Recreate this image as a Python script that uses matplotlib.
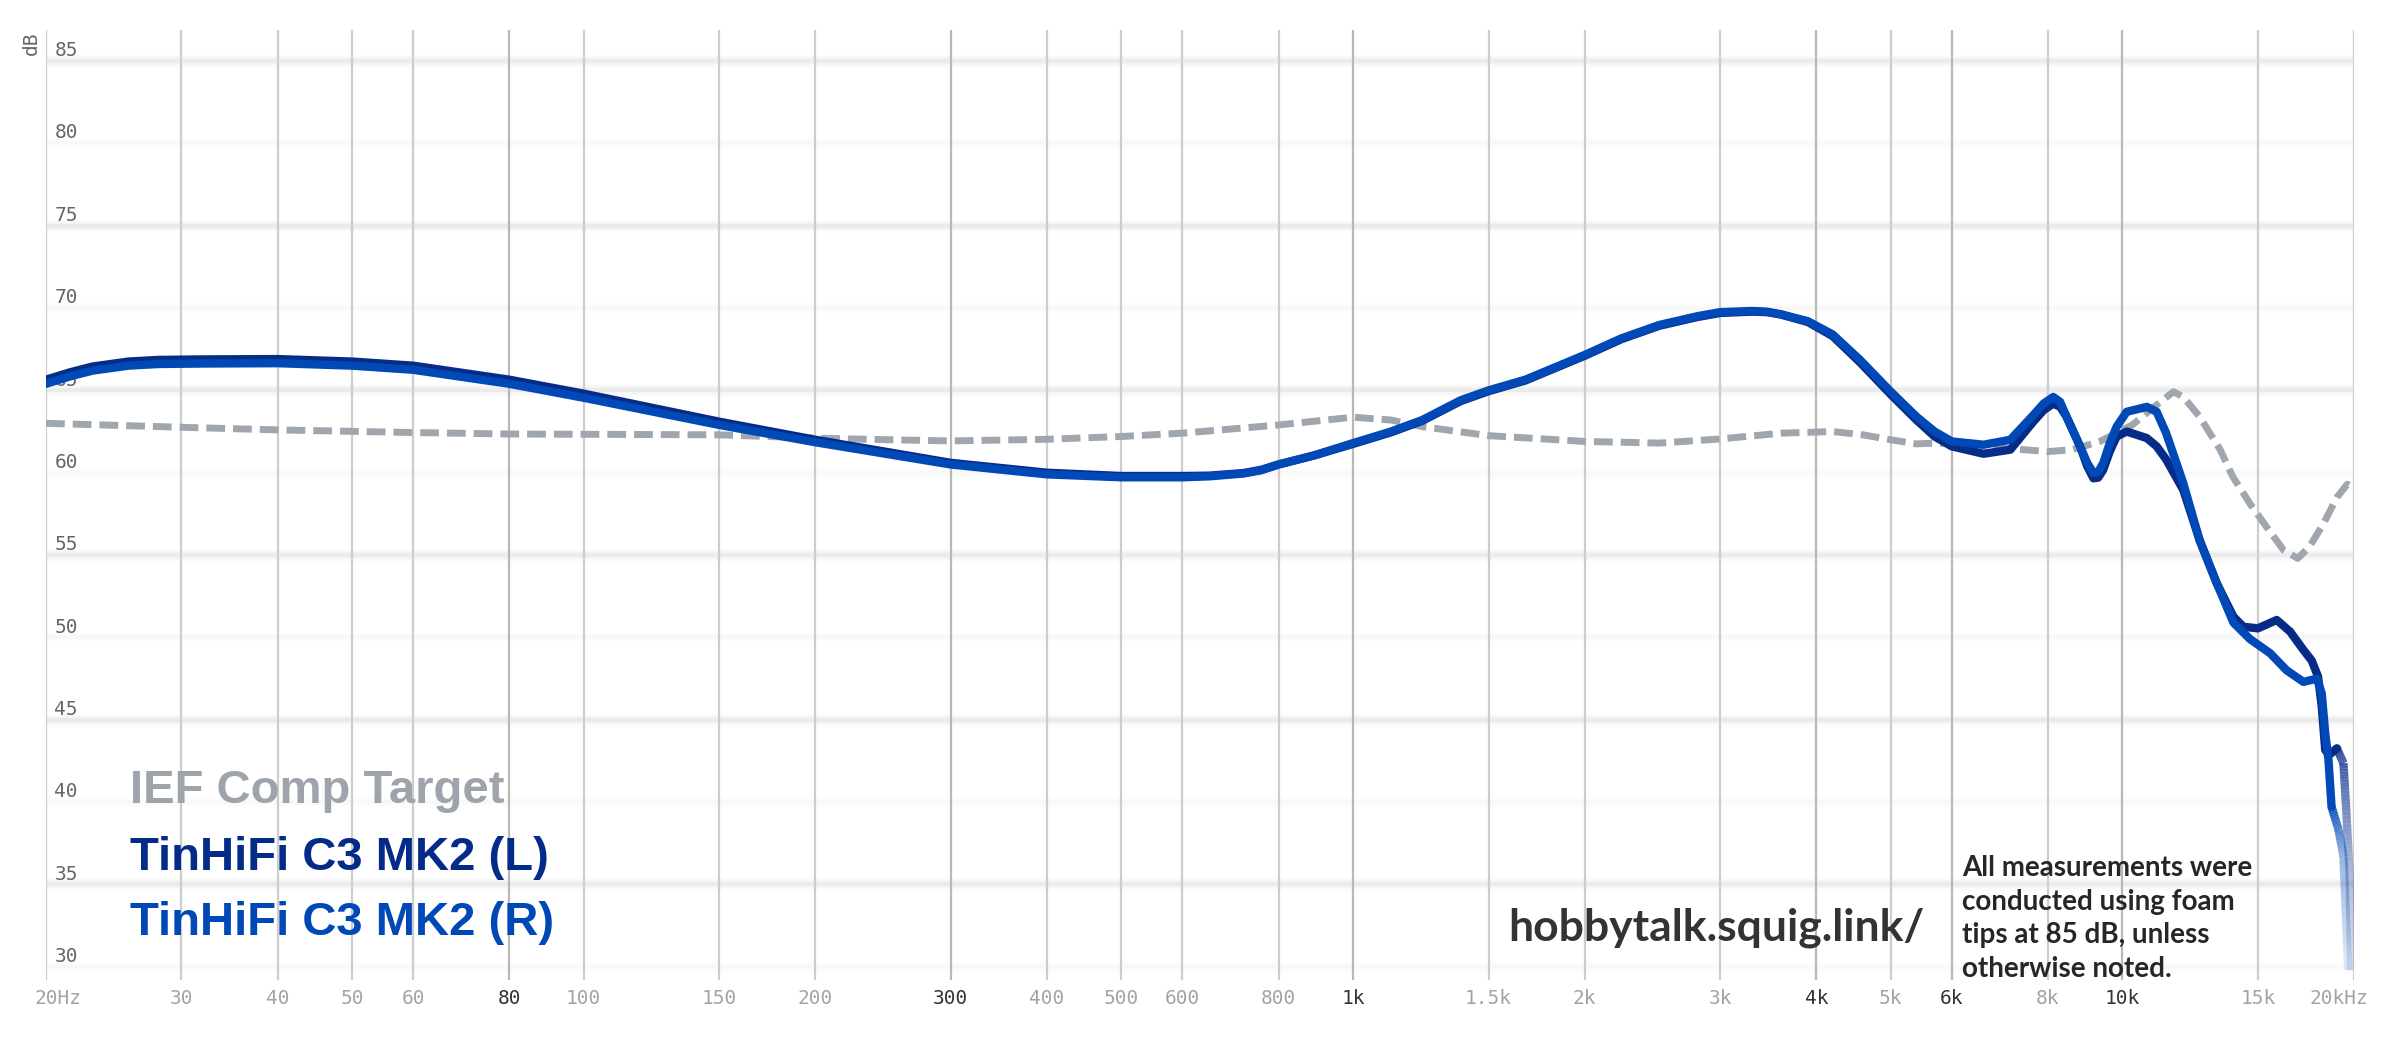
""" frequency response graph """
import numpy as np
import matplotlib.pyplot as plt
from matplotlib.collections import LineCollection
from matplotlib.colors import to_rgb

# x ticks (Hz) and their labels
tick_freqs = [20, 30, 40, 50, 60, 80, 100, 150, 200, 300, 400, 500, 600, 800,
              1000, 1500, 2000, 3000, 4000, 5000, 6000, 8000, 10000, 15000, 20000]
tick_labels = ['20Hz', '30', '40', '50', '60', '80', '100', '150', '200', '300', '400',
               '500', '600', '800', '1k', '1.5k', '2k', '3k', '4k', '5k', '6k', '8k',
               '10k', '15k', '20kHz']
dark_labels = ['80', '300', '1k', '4k', '6k', '10k']
db_ticks = [30, 35, 40, 45, 50, 55, 60, 65, 70, 75, 80, 85]

# IEF Comp Target
target_freq = [20, 30, 40, 60, 80, 105, 150, 200, 250, 300, 400, 500, 600, 800, 1000,
               1120, 1230, 1500, 2000, 2500, 3000, 3600, 4200, 4600, 5000, 5400, 5700,
               6500, 7000, 8000, 8600, 9350, 10300, 11000, 11650, 12000, 12600, 13400,
               13900, 14660, 15400, 16200, 16900, 17500, 18250, 19000, 19600, 20000]
target_db = [63.0, 62.76, 62.6, 62.44, 62.35, 62.33, 62.3, 62.1, 62.0, 61.93, 62.03, 62.2,
             62.4, 62.9, 63.37, 63.2, 62.8, 62.25, 61.9, 61.8, 62.05, 62.4, 62.5, 62.3,
             62.0, 61.75, 61.8, 61.7, 61.5, 61.28, 61.4, 61.9, 62.9, 64.0, 64.92, 64.6,
             63.4, 61.4, 59.8, 58.1, 56.7, 55.3, 54.8, 55.5, 56.9, 58.5, 59.3, 59.0]

# TinHiFi C3 MK2 (L)
left_freq = [20, 21.5, 23, 25.6, 28, 32, 40, 50, 60, 80, 100, 150, 200, 300, 400, 500,
             600, 650, 720, 760, 800, 890, 1000, 1120, 1230, 1380, 1500, 1675, 2000,
             2230, 2500, 2800, 3000, 3300, 3450, 3600, 3900, 4200, 4560, 5000, 5400,
             5700, 6000, 6600, 7150, 7660, 7900, 8130, 8300, 8460, 8810, 9000, 9170,
             9300, 9440, 9630, 9830, 10130, 10760, 11080, 11400, 12000, 12600, 13260,
             13940, 14360, 15000, 15870, 16520, 17190, 17620, 17960, 18160, 18350,
             18560, 19000, 19380, 19530, 19740, 19830]
left_db = [65.65, 66.1, 66.45, 66.75, 66.85, 66.88, 66.9, 66.75, 66.5, 65.65, 64.8, 63.1,
           62.0, 60.6, 60.0, 59.8, 59.8, 59.82, 59.98, 60.18, 60.5, 61.05, 61.75, 62.45,
           63.15, 64.35, 64.95, 65.6, 67.1, 68.1, 68.92, 69.45, 69.7, 69.78, 69.75, 69.6,
           69.15, 68.3, 66.7, 64.75, 63.2, 62.2, 61.6, 61.15, 61.4, 63.1, 63.8, 64.2,
           64.0, 63.4, 61.6, 60.4, 59.66, 59.7, 60.17, 61.3, 62.2, 62.5, 62.1, 61.6, 60.8,
           58.95, 55.9, 53.3, 51.26, 50.65, 50.55, 51.06, 50.35, 49.24, 48.6, 47.62, 45.8,
           43.17, 42.86, 43.27, 42.36, 39.7, 35.68, 29.8]

# TinHiFi C3 MK2 (R)
right_freq = [20, 21.5, 23, 25.6, 28, 32, 40, 50, 60, 80, 100, 150, 200, 300, 400, 500,
              600, 650, 720, 760, 800, 890, 1000, 1120, 1230, 1380, 1500, 1675, 2000,
              2230, 2500, 2800, 3000, 3300, 3450, 3600, 3900, 4200, 4560, 5000, 5400,
              5700, 6000, 6600, 7150, 7660, 7900, 8130, 8300, 8460, 8810, 9000, 9170,
              9300, 9440, 9630, 9830, 10130, 10760, 11080, 11400, 12000, 12600, 13260,
              13940, 14650, 15560, 16350, 17190, 17900, 18160, 18350, 18530, 18700,
              19100, 19380, 19660]
right_db = [65.4, 65.85, 66.2, 66.5, 66.6, 66.63, 66.65, 66.5, 66.25, 65.4, 64.55, 62.9,
            61.85, 60.5, 59.9, 59.72, 59.72, 59.78, 59.95, 60.15, 60.5, 61.05, 61.8, 62.5,
            63.2, 64.4, 65.0, 65.65, 67.15, 68.15, 68.97, 69.5, 69.75, 69.82, 69.78, 69.62,
            69.2, 68.4, 66.85, 64.92, 63.4, 62.5, 61.9, 61.7, 62.0, 63.5, 64.2, 64.6, 64.3,
            63.4, 61.6, 60.6, 59.97, 60.05, 60.57, 61.8, 62.8, 63.7, 64.0, 63.7, 62.4,
            59.36, 55.9, 53.3, 50.9, 49.9, 49.04, 48.0, 47.3, 47.5, 46.6, 44.17, 42.56,
            39.72, 38.3, 36.7, 29.8]

TARGET_COLOR = '#a0a6ae'
LEFT_COLOR = '#072c88'
RIGHT_COLOR = '#0049b6'

W, H = 2400, 1038
fig = plt.figure(figsize=(W / 100, H / 100), dpi=100)
ax = fig.add_axes([46 / W, 1 - 980 / H, 2308 / W, 950 / H])
ax.set_xscale('log')
ax.set_xlim(20, 20000)
ax.set_ylim(29.2, 86.88)
for s in ax.spines.values():
    s.set_visible(False)
ax.tick_params(which='both', bottom=False, left=False, labelbottom=False, labelleft=False)

# soft horizontal grid
for v in db_ticks:
    k = 1.0 if v % 10 == 5 else 0.35
    for lw, al in [(9, 0.015), (6, 0.022), (3, 0.04)]:
        ax.axhline(v, color='black', lw=lw, alpha=al * k, zorder=0.5)

# vertical grid + x labels
for f, lab in zip(tick_freqs, tick_labels):
    dark = lab in dark_labels
    ax.axvline(f, color='#b8b8b8' if dark else '#cdcdcd', lw=1.6, zorder=1)
    dx = 0
    if lab == '20Hz':
        dx = 9
    elif lab == '20kHz':
        dx = -11
    ax.annotate(lab, xy=(f, 0), xycoords=('data', 'axes fraction'), xytext=(dx, -13),
                textcoords='offset points', ha='center', va='center', fontsize=14,
                family='DejaVu Sans Mono', color='#333333' if dark else '#a3a3a3',
                annotation_clip=False)

# y labels sit inside the plot, above their grid line
for v in db_ticks:
    ax.annotate(str(v), xy=(0, v), xycoords=('axes fraction', 'data'), xytext=(6, 3.5),
                textcoords='offset points', ha='left', va='baseline', fontsize=14,
                family='DejaVu Sans Mono', color='#666666', zorder=1.5,
                annotation_clip=False)
fig.text(31 / W, 1 - 43 / H, 'dB', rotation=90, ha='center', va='center', fontsize=14,
         family='DejaVu Sans Mono', color='#666666')


def draw_curve(freq, db, color, n_fade, z, **kw):
    """ plot a curve, the last n_fade segments fade out """
    freq = np.asarray(freq, float)
    db = np.asarray(db, float)
    k = len(freq) - 1 - n_fade
    ax.plot(freq[:k + 1], db[:k + 1], color=color, zorder=z, **kw)
    if n_fade <= 0:
        return
    # split the tail segments into short pieces to fade them
    lf = np.log10(freq[k:])
    pts = []
    for i in range(len(lf) - 1):
        t = np.linspace(0, 1, 16, endpoint=(i == len(lf) - 2))
        pts += list(zip(10 ** (lf[i] + t * (lf[i + 1] - lf[i])),
                        db[k + i] + t * (db[k + i + 1] - db[k + i])))
    pts = np.array(pts)
    segs = np.stack([pts[:-1], pts[1:]], axis=1)
    alphas = np.linspace(1.0, 0.12, len(segs))
    rgb = to_rgb(color)
    lc = LineCollection(segs, colors=[(*rgb, a) for a in alphas], linewidths=kw.get('lw', 6),
                        capstyle='butt', zorder=z)
    ax.add_collection(lc)


draw_curve(target_freq, target_db, TARGET_COLOR, 0, 2, lw=5, dashes=(2.7, 1.15),
           dash_capstyle='butt')
draw_curve(left_freq, left_db, LEFT_COLOR, 4, 3, lw=6, solid_joinstyle='round',
           solid_capstyle='round')
draw_curve(right_freq, right_db, RIGHT_COLOR, 3, 4, lw=6, solid_joinstyle='round',
           solid_capstyle='round')

# legend
legend_items = [('IEF Comp Target', '#9ea4ac', 803),
                ('TinHiFi C3 MK2 (L)', '#052b89', 870),
                ('TinHiFi C3 MK2 (R)', '#0048b5', 935)]
for txt, col, yb in legend_items:
    fig.text(130 / W, 1 - yb / H, txt, ha='left', va='baseline', fontsize=34,
             family='Liberation Sans', weight='bold', color=col)

fig.text(1508 / W, 1 - 941 / H, 'hobbytalk.squig.link/', ha='left', va='baseline',
         fontsize=32, family='Lato', weight='bold', color='#333333')

note = ['All measurements were', 'conducted using foam', 'tips at 85 dB, unless',
        'otherwise noted.']
for i, line in enumerate(note):
    fig.text(1962 / W, 1 - (876 + 33.7 * i) / H, line, ha='left', va='baseline',
             fontsize=20, family='Lato', weight='bold', color='#262626')

fig.savefig('out.png', dpi=100, facecolor='white')
